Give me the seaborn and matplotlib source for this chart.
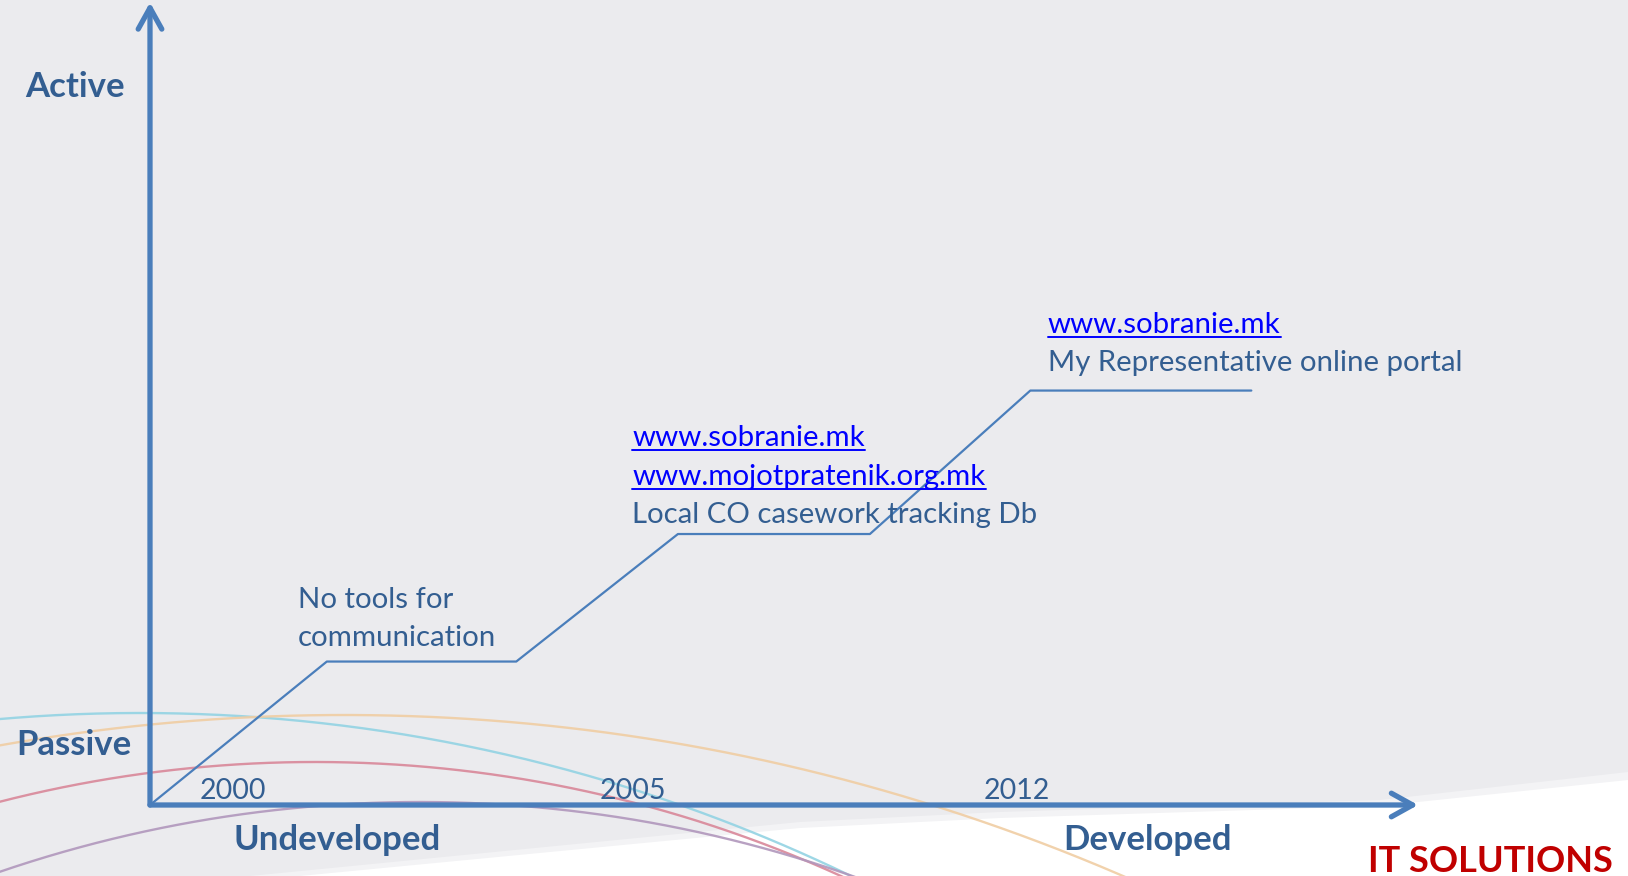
"""
Parliament IT solutions: maturity staircase from passive/undeveloped to active/developed.
"""

import matplotlib.pyplot as plt
import numpy as np
import pandas as pd
import seaborn as sns
from matplotlib.lines import Line2D
from matplotlib.patches import FancyArrowPatch, Polygon

# staircase of IT maturity (x: development 0-100, y: activity 0-100)
stage_x = [0, 14, 29, 41.8, 57, 69.7, 87.2]
stage_y = [0, 18, 18, 34, 34, 52, 52]

years = ["2000", "2005", "2012"]
year_x = [6.6, 38.2, 68.6]

# annotation blocks: left x, first baseline, lines, which lines are links
block_x = [11.7, 38.2, 71.1]
block_top = [24.7, 45.0, 59.2]
block_lines = [
    ["No tools for", "communication"],
    ["www.sobranie.mk", "www.mojotpratenik.org.mk", "Local CO casework tracking Db"],
    ["www.sobranie.mk", "My Representative online portal"],
]
block_links = [
    [False, False],
    [True, True, False],
    [True, False],
]

W, H = 1628, 876
AX_X0, AX_X1 = 150, 1413   # pixel span of the x axis
AX_Y0, AX_Y1 = 805, 8      # pixel span of the y axis (bottom, top)

BG = "#EBEBEE"
AXIS_BLUE = "#4A7EBB"
TEXT_BLUE = "#335E91"
LINK_BLUE = "#0000FF"
RED = "#C00000"
FONT = ["Lato", "DejaVu Sans"]

sns.set_style("white")
plt.rcParams["font.family"] = FONT

fig = plt.figure(figsize=(W / 100, H / 100), dpi=100, facecolor=BG)

# background layer in pixel coords
bg = fig.add_axes([0, 0, 1, 1])
bg.set_xlim(0, W)
bg.set_ylim(H, 0)
bg.axis("off")
bg.set_facecolor(BG)
edge = [(250, H), (800, 822), (1000, 812), (1380, 800), (W, 772)]
bg.add_patch(Polygon(edge + [(W, H)], closed=True,
                     facecolor="#F3F3F5", edgecolor="none", zorder=1))
edge = [(300, H), (800, 828), (1000, 818), (1380, 806), (W, 780)]
bg.add_patch(Polygon(edge + [(W, H)], closed=True,
                     facecolor="white", edgecolor="none", zorder=1))

# decorative swooshes: peak x, peak y, radius, colour
arcs = [
    (140, 713, 1632, "#93D3E3"),
    (344, 715, 1965, "#F0CDA3"),
    (315, 762, 1270, "#D98799"),
    (420, 802, 1300, "#B197BC"),
]
for cx, top, r, col in arcs:
    xs = np.linspace(cx - r * 0.75, cx + r * 0.75, 600)
    ys = top + r - np.sqrt(r ** 2 - (xs - cx) ** 2)
    bg.plot(xs, ys, color=col, lw=1.7, alpha=0.9, zorder=2, solid_capstyle="butt")

# chart layer
ax = fig.add_axes([AX_X0 / W, (H - AX_Y0) / H, (AX_X1 - AX_X0) / W, (AX_Y0 - AX_Y1) / H])
ax.set_xlim(0, 100)
ax.set_ylim(0, 100)
ax.axis("off")
ax.patch.set_alpha(0)

steps = pd.DataFrame({"development": stage_x, "activity": stage_y})
sns.lineplot(data=steps, x="development", y="activity", sort=False,
             color=AXIS_BLUE, lw=1.6, ax=ax, zorder=3)

# axis arrows, ends nudged so the chevron tip lands on the axes edge
for end in [(100.4, 0), (0, 100.7)]:
    ax.add_patch(FancyArrowPatch((0, 0), end, arrowstyle="->,head_length=0.9,head_width=0.5",
                                 mutation_scale=17, color=AXIS_BLUE, lw=3.8,
                                 shrinkA=0, shrinkB=0,
                                 capstyle="round", joinstyle="round",
                                 clip_on=False, zorder=4))

for label, x in zip(years, year_x):
    ax.text(x, 0.75, label, ha="center", va="baseline", fontsize=20.5,
            color=TEXT_BLUE, zorder=5)

bold = dict(fontsize=25, fontweight="bold", color=TEXT_BLUE, va="baseline")
ax.text(-9.9, 88.8, "Active", ha="left", clip_on=False, **bold)
ax.text(-10.6, 6.3, "Passive", ha="left", clip_on=False, **bold)
ax.text(14.8, -5.6, "Undeveloped", ha="center", clip_on=False, **bold)
ax.text(79.0, -5.6, "Developed", ha="center", clip_on=False, **bold)
fig.text(1613 / W, 1 - 872 / H, "IT SOLUTIONS", ha="right", va="baseline",
         fontsize=26, fontweight="bold", color=RED)

LINE_STEP = 4.8
links = []
for x, top, lines, flags in zip(block_x, block_top, block_lines, block_links):
    for i, (line, is_link) in enumerate(zip(lines, flags)):
        t = ax.text(x, top - i * LINE_STEP, line, ha="left", va="baseline",
                    fontsize=21.2, color=LINK_BLUE if is_link else TEXT_BLUE, zorder=5)
        if is_link:
            links.append(t)

# underline the web addresses
fig.canvas.draw()
renderer = fig.canvas.get_renderer()
for t in links:
    bb = t.get_window_extent(renderer)
    px, py = ax.transData.transform(t.get_position())
    y_line = (py - 4) / H
    fig.add_artist(Line2D([bb.x0 / W, bb.x1 / W], [y_line, y_line],
                          color=LINK_BLUE, lw=1.4, zorder=6))

fig.savefig("out.png", dpi=100, facecolor=BG)
plt.close(fig)
